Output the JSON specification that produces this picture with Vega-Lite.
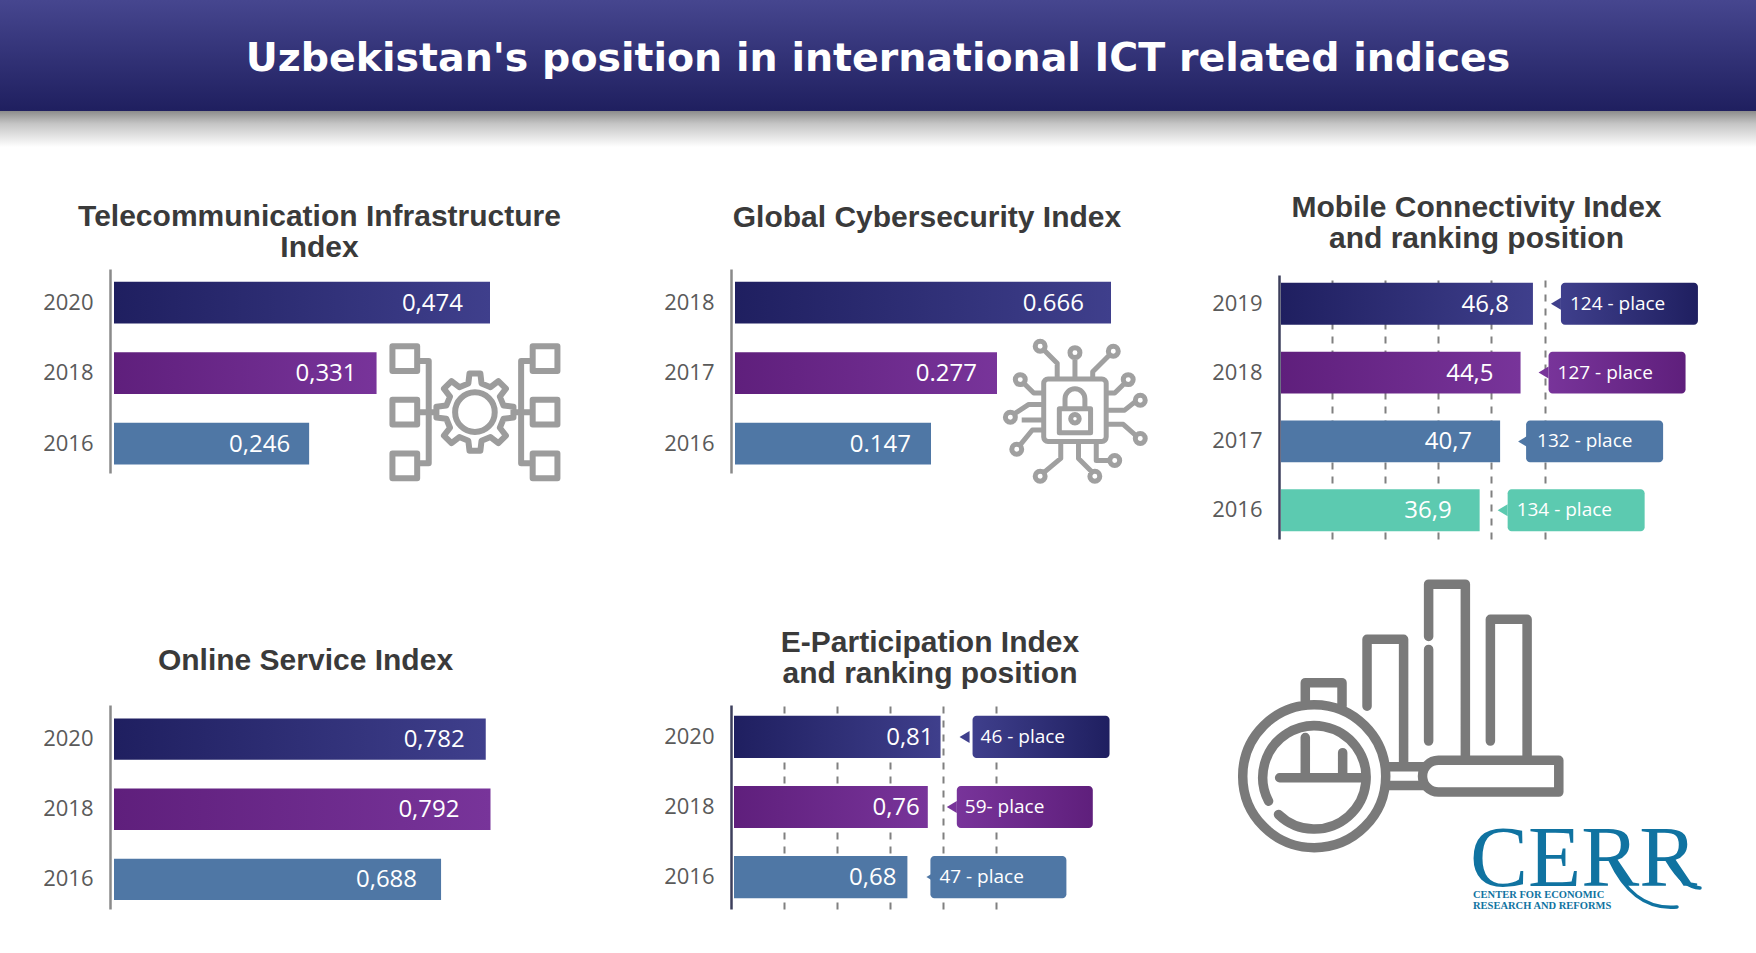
{
"$schema":"https://vega.github.io/schema/vega-lite/v6.json",
"padding":0,
"background":"white",
"bounds":"flush",
"spacing":0,
"config":{"view":{"stroke":null},"axisY":{"title":null,"ticks":false,"labelFont":"Open Sans","labelFontSize":22,"labelColor":"#5a5a5a","labelPadding":17,"domainWidth":2.5,"domainColor":"#8a8a8a","grid":false,"labelAngle":0},"title":{"font":"Liberation Sans","fontWeight":"bold","fontSize":30,"color":"#3a3a3a","lineHeight":31,"anchor":"middle","baseline":"bottom","frame":"group"},"concat":{"spacing":0},"text":{"font":"Open Sans","color":"white"}},
"vconcat":[
{"width":1756,"height":111,"data":{"values":[{"part":"banner","heading":"Uzbekistan's position in international ICT related indices"}]},
 "encoding":{"x":{"field":"part","type":"nominal","axis":null,"scale":{"paddingInner":0,"paddingOuter":0}},"y":{"field":"part","type":"nominal","axis":null,"scale":{"paddingInner":0,"paddingOuter":0}}},
 "layer":[
  {"mark":{"type":"rect","fill":{"gradient":"linear","x1":0,"y1":0,"x2":0,"y2":1,"stops":[{"offset":0,"color":"#46468f"},{"offset":1,"color":"#1f1f5f"}]}}},
  {"mark":{"type":"text","font":"DejaVu Sans","fontWeight":"bold","fontSize":39.5,"dy":3,"color":"white"},"encoding":{"text":{"field":"heading"}}}
 ]},
{"width":1756,"height":164,"data":{"values":[{"part":"shadow"}]},
 "mark":{"type":"rect","fill":{"gradient":"linear","x1":0,"y1":0,"x2":0,"y2":1,"stops":[{"offset":0,"color":"#8c8c8c"},{"offset":0.35,"color":"#c4c4c4"},{"offset":1,"color":"#ffffff"}]}},
 "encoding":{"x":{"field":"part","type":"nominal","axis":null,"scale":{"paddingInner":0,"paddingOuter":0}},"y":{"field":"part","type":"nominal","axis":null,"scale":{"paddingInner":0,"paddingOuter":0,"range":[0,36]}}}},
{"bounds":"flush","spacing":0,"hconcat":[
 {"width":110,"height":198,"data":{"values":[]},"mark":"text","encoding":{}},
 {"width":621,"height":198,
  "title":{"text":["Telecommunication Infrastructure","Index"],"dx":-101,"offset":12},
  "data":{"values":[{"year":"2020","value":0.474,"label":"0,474","series":1},{"year":"2018","value":0.331,"label":"0,331","series":2},{"year":"2016","value":0.246,"label":"0,246","series":3}]},
  "encoding":{"y":{"field":"year","type":"nominal","sort":["2020","2018","2016"],"scale":{"range":[-6,198],"paddingInner":0.41,"paddingOuter":0.152,"align":0.6}},"x":{"field":"value","type":"quantitative","stack":null,"axis":null,"scale":{"domain":[0,0.474],"range":[4,380],"nice":false}}},
  "layer":[
   {"transform":[{"filter":"datum.series==1"}],"mark":{"type":"bar","fill":{"gradient":"linear","x1":0,"y1":0,"x2":1,"y2":0,"stops":[{"offset":0,"color":"#1f1f60"},{"offset":1,"color":"#3f3f8c"}]}}},
   {"transform":[{"filter":"datum.series==2"}],"mark":{"type":"bar","fill":{"gradient":"linear","x1":0,"y1":0,"x2":1,"y2":0,"stops":[{"offset":0,"color":"#5f1f7c"},{"offset":1,"color":"#78349a"}]}}},
   {"transform":[{"filter":"datum.series==3"}],"mark":{"type":"bar","fill":"#4f77a5"}},
   {"transform":[{"filter":"datum.series==1"}],"mark":{"type":"text","align":"right","dx":-27,"dy":1,"fontSize":24},"encoding":{"text":{"field":"label"}}},
   {"transform":[{"filter":"datum.series==2"}],"mark":{"type":"text","align":"right","dx":-20,"dy":1,"fontSize":24},"encoding":{"text":{"field":"label"}}},
   {"transform":[{"filter":"datum.series==3"}],"mark":{"type":"text","align":"right","dx":-19,"dy":1,"fontSize":24},"encoding":{"text":{"field":"label"}}},
   {"data":{"values":[{"icon":"network","year":"2018","value":0.455}]},"mark":{"type":"point","filled":false,"opacity":1,"stroke":"#9c9c9c","strokeWidth":6,"strokeJoin":"round","yOffset":39,"size":27225,"shape":"M-1,-.8H-.7V-.5H-1ZM-1,-.15H-.7V.15H-1ZM-1,.5H-.7V.8H-1ZM.7,-.8H1V-.5H.7ZM.7,-.15H1V.15H.7ZM.7,.5H1V.8H.7ZM-.7,-.62H-.56V.62H-.7M-.7,0H-.47M.7,-.62H.56V.62H.7M.7,0H.47M.347,-.08L.467,-.066L.467,.066L.347,.08L.302,.189L.376,.284L.284,.376L.189,.302L.08,.347L.066,.467L-.066,.467L-.08,.347L-.189,.302L-.284,.376L-.376,.284L-.302,.189L-.347,.08L-.467,.066L-.467,-.066L-.347,-.08L-.302,-.189L-.376,-.284L-.284,-.376L-.189,-.302L-.08,-.347L-.066,-.467L.066,-.467L.08,-.347L.189,-.302L.284,-.376L.376,-.284L.302,-.189ZM.24,0A.24,.24 0 1,1 -.24,0A.24,.24 0 1,1 .24,0Z"}}
  ]},
 {"width":548,"height":198,
  "title":{"text":"Global Cybersecurity Index","dx":-78,"offset":42},
  "data":{"values":[{"year":"2018","value":0.666,"label":"0.666","series":1},{"year":"2017","value":0.277,"label":"0.277","series":2},{"year":"2016","value":0.147,"label":"0.147","series":3}]},
  "encoding":{"y":{"field":"year","type":"nominal","sort":["2018","2017","2016"],"scale":{"range":[-6,198],"paddingInner":0.41,"paddingOuter":0.152,"align":0.6}},"x":{"field":"value","type":"quantitative","stack":null,"axis":null,"scale":{"domain":[0,0.147,0.277,0.666,1],"range":[4,200,266,380,500],"nice":false}}},
  "layer":[
   {"transform":[{"filter":"datum.series==1"}],"mark":{"type":"bar","fill":{"gradient":"linear","x1":0,"y1":0,"x2":1,"y2":0,"stops":[{"offset":0,"color":"#1f1f60"},{"offset":1,"color":"#3f3f8c"}]}}},
   {"transform":[{"filter":"datum.series==2"}],"mark":{"type":"bar","fill":{"gradient":"linear","x1":0,"y1":0,"x2":1,"y2":0,"stops":[{"offset":0,"color":"#5f1f7c"},{"offset":1,"color":"#78349a"}]}}},
   {"transform":[{"filter":"datum.series==3"}],"mark":{"type":"bar","fill":"#4f77a5"}},
   {"transform":[{"filter":"datum.series==1"}],"mark":{"type":"text","align":"right","dx":-27,"dy":1,"fontSize":24},"encoding":{"text":{"field":"label"}}},
   {"transform":[{"filter":"datum.series==2"}],"mark":{"type":"text","align":"right","dx":-20,"dy":1,"fontSize":24},"encoding":{"text":{"field":"label"}}},
   {"transform":[{"filter":"datum.series==3"}],"mark":{"type":"text","align":"right","dx":-20,"dy":1,"fontSize":24},"encoding":{"text":{"field":"label"}}},
   {"data":{"values":[{"icon":"chip","year":"2017","value":0.543}]},"mark":{"type":"point","filled":false,"opacity":1,"stroke":"#a0a0a0","strokeWidth":5,"strokeJoin":"round","yOffset":37,"size":20164,"shape":"M-.38,-.44H.38A.06,.06 0 0,1 .44,-.38V.38A.06,.06 0 0,1 .38,.44H-.38A.06,.06 0 0,1 -.44,.38V-.38A.06,.06 0 0,1 -.38,-.44ZM-.22,-.02H.22V.32H-.22ZM-.14,-.02V-.16A.14,.14 0 0,1 .14,-.16V-.02M.06,.12A.06,.06 0 1,1 -.06,.12A.06,.06 0 1,1 .06,.12ZM-.42,-.9A.07,.07 0 1,1 -.56,-.9A.07,.07 0 1,1 -.42,-.9ZM-.44,-.85L-.25,-.66V-.44M.07,-.81A.07,.07 0 1,1 -.07,-.81A.07,.07 0 1,1 .07,-.81ZM0,-.74V-.44M.61,-.83A.07,.07 0 1,1 .47,-.83A.07,.07 0 1,1 .61,-.83ZM.49,-.78L.25,-.54V-.44M-.7,-.43A.07,.07 0 1,1 -.84,-.43A.07,.07 0 1,1 -.7,-.43ZM-.72,-.38L-.58,-.24H-.44M.82,-.43A.07,.07 0 1,1 .68,-.43A.07,.07 0 1,1 .82,-.43ZM.7,-.38L.56,-.24H.44M-.84,.1A.07,.07 0 1,1 -.98,.1A.07,.07 0 1,1 -.84,.1ZM-.85,.05L-.65,-.08H-.44M-.75,.14H-.44M.99,-.14A.07,.07 0 1,1 .85,-.14A.07,.07 0 1,1 .99,-.14ZM.85,-.12L.7,0H.44M.99,.4A.07,.07 0 1,1 .85,.4A.07,.07 0 1,1 .99,.4ZM.86,.36L.68,.2H.44M-.75,.55A.07,.07 0 1,1 -.89,.55A.07,.07 0 1,1 -.75,.55ZM-.78,.5L-.6,.28H-.44M.63,.71A.07,.07 0 1,1 .49,.71A.07,.07 0 1,1 .63,.71ZM.49,.71H.3V.44M-.42,.93A.07,.07 0 1,1 -.56,.93A.07,.07 0 1,1 -.42,.93ZM-.44,.88L-.2,.68V.44M.35,.93A.07,.07 0 1,1 .21,.93A.07,.07 0 1,1 .35,.93ZM.24,.87L.05,.68V.44"}}
  ]},
 {"width":477,"height":264,
  "title":{"text":["Mobile Connectivity Index","and ranking position"],"dx":-41,"offset":21},
  "data":{"values":[{"year":"2019","value":46.8,"label":"46,8","place":"124 - place","series":1},{"year":"2018","value":44.5,"label":"44,5","place":"127 - place","series":2},{"year":"2017","value":40.7,"label":"40,7","place":"132 - place","series":3},{"year":"2016","value":36.9,"label":"36,9","place":"134 - place","series":4}]},
  "encoding":{"y":{"field":"year","type":"nominal","sort":["2019","2018","2017","2016"],"axis":{"domainColor":"#3d3f5c"},"scale":{"range":[0,264],"paddingInner":0.39,"paddingOuter":0.114}},"x":{"field":"value","type":"quantitative","stack":null,"axis":{"values":[9.47,19.3,29.2,39,49],"grid":true,"gridDash":[7,7],"gridColor":"#808080","gridWidth":2,"domain":false,"ticks":false,"labels":false,"title":null},"scale":{"domain":[0,60],"range":[2,325],"nice":false}}},
  "layer":[
   {"transform":[{"filter":"datum.series==1"}],"mark":{"type":"bar","fill":{"gradient":"linear","x1":0,"y1":0,"x2":1,"y2":0,"stops":[{"offset":0,"color":"#1f1f60"},{"offset":1,"color":"#3f3f8c"}]}}},
   {"transform":[{"filter":"datum.series==2"}],"mark":{"type":"bar","fill":{"gradient":"linear","x1":0,"y1":0,"x2":1,"y2":0,"stops":[{"offset":0,"color":"#5f1f7c"},{"offset":1,"color":"#78349a"}]}}},
   {"transform":[{"filter":"datum.series==3"}],"mark":{"type":"bar","fill":"#4f77a5"}},
   {"transform":[{"filter":"datum.series==4"}],"mark":{"type":"bar","fill":"#5ccab0"}},
   {"transform":[{"filter":"datum.series==1"}],"mark":{"type":"text","align":"right","dx":-24,"dy":1,"fontSize":24},"encoding":{"text":{"field":"label"}}},
   {"transform":[{"filter":"datum.series==2"}],"mark":{"type":"text","align":"right","dx":-27,"dy":1,"fontSize":24},"encoding":{"text":{"field":"label"}}},
   {"transform":[{"filter":"datum.series>=3"}],"mark":{"type":"text","align":"right","dx":-28,"dy":1,"fontSize":24},"encoding":{"text":{"field":"label"}}},
   {"transform":[{"filter":"datum.series==1"}],"mark":{"type":"bar","xOffset":28,"x2Offset":165,"cornerRadius":4,"fill":{"gradient":"linear","x1":0,"y1":0,"x2":1,"y2":0,"stops":[{"offset":0,"color":"#3f3f8c"},{"offset":1,"color":"#1f1f60"}]}},"encoding":{"x2":{"field":"value"}}},
   {"transform":[{"filter":"datum.series==2"}],"mark":{"type":"bar","xOffset":28,"x2Offset":165,"cornerRadius":4,"fill":{"gradient":"linear","x1":0,"y1":0,"x2":1,"y2":0,"stops":[{"offset":0,"color":"#78349a"},{"offset":1,"color":"#5f1f7c"}]}},"encoding":{"x2":{"field":"value"}}},
   {"transform":[{"filter":"datum.series==3"}],"mark":{"type":"bar","xOffset":26,"x2Offset":163,"cornerRadius":4,"fill":"#4f77a5"},"encoding":{"x2":{"field":"value"}}},
   {"transform":[{"filter":"datum.series==4"}],"mark":{"type":"bar","xOffset":28,"x2Offset":165,"cornerRadius":4,"fill":"#5ccab0"},"encoding":{"x2":{"field":"value"}}},
   {"mark":{"type":"point","filled":true,"opacity":1,"xOffset":23,"size":100,"shape":"M-1,0L1,-1.2L1,1.2Z"},"encoding":{"fill":{"field":"series","type":"ordinal","legend":null,"scale":{"domain":[1,2,3,4],"range":["#3f3f8c","#78349a","#4f77a5","#5ccab0"]}}}},
   {"mark":{"type":"text","align":"left","xOffset":37,"fontSize":19},"encoding":{"text":{"field":"place"}}}
  ]}
]},
{"width":10,"height":430,"data":{"values":[]},"mark":"text","encoding":{}},
{"bounds":"flush","spacing":0,"hconcat":[
 {"width":110,"height":204,"data":{"values":[]},"mark":"text","encoding":{}},
 {"width":621,"height":204,
  "title":{"text":"Online Service Index","dx":-115,"offset":29},
  "data":{"values":[{"year":"2020","value":0.782,"label":"0,782","series":1},{"year":"2018","value":0.792,"label":"0,792","series":2},{"year":"2016","value":0.688,"label":"0,688","series":3}]},
  "encoding":{"y":{"field":"year","type":"nominal","sort":["2020","2018","2016"],"scale":{"range":[0,204],"paddingInner":0.41,"paddingOuter":0.16,"align":0.6}},"x":{"field":"value","type":"quantitative","stack":null,"axis":null,"scale":{"domain":[0,0.792],"range":[4,380.5],"nice":false}}},
  "layer":[
   {"transform":[{"filter":"datum.series==1"}],"mark":{"type":"bar","fill":{"gradient":"linear","x1":0,"y1":0,"x2":1,"y2":0,"stops":[{"offset":0,"color":"#1f1f60"},{"offset":1,"color":"#3f3f8c"}]}}},
   {"transform":[{"filter":"datum.series==2"}],"mark":{"type":"bar","fill":{"gradient":"linear","x1":0,"y1":0,"x2":1,"y2":0,"stops":[{"offset":0,"color":"#5f1f7c"},{"offset":1,"color":"#78349a"}]}}},
   {"transform":[{"filter":"datum.series==3"}],"mark":{"type":"bar","fill":"#4f77a5"}},
   {"transform":[{"filter":"datum.series==1"}],"mark":{"type":"text","align":"right","dx":-21,"dy":1,"fontSize":24},"encoding":{"text":{"field":"label"}}},
   {"transform":[{"filter":"datum.series==2"}],"mark":{"type":"text","align":"right","dx":-31,"dy":1,"fontSize":24},"encoding":{"text":{"field":"label"}}},
   {"transform":[{"filter":"datum.series==3"}],"mark":{"type":"text","align":"right","dx":-24,"dy":1,"fontSize":24},"encoding":{"text":{"field":"label"}}}
  ]},
 {"width":548,"height":204,
  "title":{"text":["E-Participation Index","and ranking position"],"dx":-75,"offset":16},
  "data":{"values":[{"year":"2020","value":0.81,"label":"0,81","place":"46 - place","series":1},{"year":"2018","value":0.76,"label":"0,76","place":"59- place","series":2},{"year":"2016","value":0.68,"label":"0,68","place":"47 - place","series":3}]},
  "encoding":{"y":{"field":"year","type":"nominal","sort":["2020","2018","2016"],"axis":{"domainColor":"#3d3f5c"},"scale":{"range":[0,204],"paddingInner":0.4,"paddingOuter":0.155}},"x":{"field":"value","type":"quantitative","stack":null,"axis":{"values":[0.198,0.404,0.61,0.818,1.027],"grid":true,"gridDash":[7,7],"gridColor":"#808080","gridWidth":2,"domain":false,"ticks":false,"labels":false,"title":null},"scale":{"domain":[0,1.2],"range":[3,309],"nice":false}}},
  "layer":[
   {"transform":[{"filter":"datum.series==1"}],"mark":{"type":"bar","fill":{"gradient":"linear","x1":0,"y1":0,"x2":1,"y2":0,"stops":[{"offset":0,"color":"#1f1f60"},{"offset":1,"color":"#3f3f8c"}]}}},
   {"transform":[{"filter":"datum.series==2"}],"mark":{"type":"bar","fill":{"gradient":"linear","x1":0,"y1":0,"x2":1,"y2":0,"stops":[{"offset":0,"color":"#5f1f7c"},{"offset":1,"color":"#78349a"}]}}},
   {"transform":[{"filter":"datum.series==3"}],"mark":{"type":"bar","fill":"#4f77a5"}},
   {"transform":[{"filter":"datum.series==1"}],"mark":{"type":"text","align":"right","dx":-7,"dy":1,"fontSize":24},"encoding":{"text":{"field":"label"}}},
   {"transform":[{"filter":"datum.series==2"}],"mark":{"type":"text","align":"right","dx":-8,"dy":1,"fontSize":24},"encoding":{"text":{"field":"label"}}},
   {"transform":[{"filter":"datum.series==3"}],"mark":{"type":"text","align":"right","dx":-11,"dy":1,"fontSize":24},"encoding":{"text":{"field":"label"}}},
   {"transform":[{"filter":"datum.series==1"}],"mark":{"type":"bar","xOffset":32,"x2Offset":169,"cornerRadius":4,"fill":{"gradient":"linear","x1":0,"y1":0,"x2":1,"y2":0,"stops":[{"offset":0,"color":"#3f3f8c"},{"offset":1,"color":"#1f1f60"}]}},"encoding":{"x2":{"field":"value"}}},
   {"transform":[{"filter":"datum.series==2"}],"mark":{"type":"bar","xOffset":29,"x2Offset":165,"cornerRadius":4,"fill":{"gradient":"linear","x1":0,"y1":0,"x2":1,"y2":0,"stops":[{"offset":0,"color":"#78349a"},{"offset":1,"color":"#5f1f7c"}]}},"encoding":{"x2":{"field":"value"}}},
   {"transform":[{"filter":"datum.series==3"}],"mark":{"type":"bar","xOffset":23,"x2Offset":159,"cornerRadius":4,"fill":"#4f77a5"},"encoding":{"x2":{"field":"value"}}},
   {"mark":{"type":"point","filled":true,"opacity":1,"xOffset":24,"size":100,"shape":"M-1,0L1,-1.2L1,1.2Z"},"encoding":{"fill":{"field":"series","type":"ordinal","legend":null,"scale":{"domain":[1,2,3],"range":["#3f3f8c","#78349a","#4f77a5"]}}}},
   {"transform":[{"filter":"datum.series==1"}],"mark":{"type":"text","align":"left","xOffset":40,"fontSize":19},"encoding":{"text":{"field":"place"}}},
   {"transform":[{"filter":"datum.series==2"}],"mark":{"type":"text","align":"left","xOffset":37,"fontSize":19},"encoding":{"text":{"field":"place"}}},
   {"transform":[{"filter":"datum.series==3"}],"mark":{"type":"text","align":"left","xOffset":32,"fontSize":19},"encoding":{"text":{"field":"place"}}}
  ]},
 {"width":477,"height":248,
  "encoding":{"x":{"field":"u","type":"quantitative","axis":null,"scale":{"domain":[0,477],"range":[0,477],"nice":false}},"y":{"field":"v","type":"quantitative","axis":null,"scale":{"domain":[0,248],"range":[0,248],"nice":false}}},
  "layer":[
   {"data":{"values":[{"icon":"magnifier","u":122,"v":11}]},"mark":{"type":"point","filled":false,"opacity":1,"stroke":"#7a7a7a","strokeWidth":9.5,"strokeJoin":"round","strokeCap":"round","size":105625,"shape":"M-.094,.37A.44,.44 0 1,1 -.974,.37A.44,.44 0 1,1 -.094,.37ZM-.815,.524A.318,.318 0 1,1 -.754,.606M-.747,.38H-.24M-.589,.133V.38M-.359,.226V.38M-.589,-.082V-.205H-.363V-.06M-.209,-.06V-.472H.016V.287M.17,.154V-.41M.17,-.49V-.811H.396V.257M.55,.154V-.595H.776V.257M.23,.273H.971V.468H.23A.0975,.0975 0 0,1 .23,.273ZM-.096,.312H.14M-.096,.427H.14"}},
   {"data":{"values":[{"brand":"CERR","u":191,"v":181}]},"mark":{"type":"text","align":"left","baseline":"alphabetic","font":"Liberation Serif","fontSize":87,"color":"#1073a1"},"encoding":{"text":{"field":"brand"}}},
   {"data":{"values":[{"brand":"CENTER FOR ECONOMIC","u":194,"v":192.5},{"brand":"RESEARCH AND REFORMS","u":194,"v":203.5}]},"mark":{"type":"text","align":"left","baseline":"alphabetic","font":"Liberation Serif","fontWeight":"bold","fontSize":10.5,"letterSpacing":0.2,"color":"#1073a1"},"encoding":{"text":{"field":"brand"}}},
   {"data":{"values":[{"flourish":"tails","u":380,"v":180}]},"mark":{"type":"point","filled":false,"opacity":1,"stroke":"#1073a1","strokeWidth":3.5,"strokeCap":"round","size":10000,"shape":"M-.98,-.5C-.7,.1 -.3,.5 .36,.44M.16,-.5C.4,-.1 .6,.05 .82,.06"}}
  ]}
]}
]}
